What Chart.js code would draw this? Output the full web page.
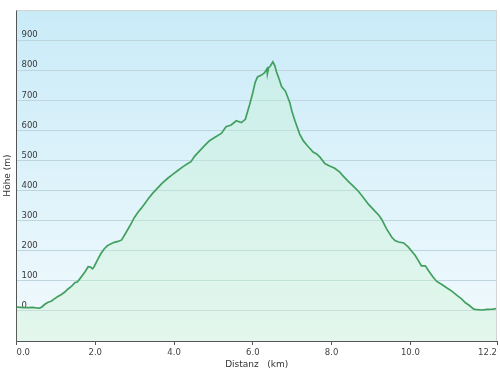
<!DOCTYPE html>
<html>
<head>
<meta charset="utf-8">
<script src="https://cdn.jsdelivr.net/npm/chart.js@4/dist/chart.umd.min.js"></script>
<style>
html,body{margin:0;padding:0;background:#fff;}
#wrap{width:500px;height:375px;}
</style>
</head>
<body>
<div id="wrap"><canvas id="c" width="500" height="375"></canvas></div>
<script>
const distanceKm = [0.00,0.10,0.20,0.30,0.40,0.50,0.59,0.65,0.72,0.80,0.88,0.97,1.05,1.13,1.22,1.30,1.40,1.48,1.55,1.65,1.74,1.82,1.88,1.93,1.97,2.05,2.14,2.22,2.30,2.38,2.48,2.58,2.67,2.77,2.88,2.99,3.08,3.16,3.24,3.35,3.45,3.58,3.70,3.84,3.95,4.08,4.22,4.35,4.43,4.52,4.62,4.75,4.90,5.05,5.20,5.32,5.45,5.58,5.71,5.81,5.92,5.99,6.06,6.12,6.22,6.30,6.36,6.37,6.40,6.45,6.51,6.56,6.60,6.67,6.73,6.83,6.94,7.00,7.07,7.13,7.19,7.28,7.38,7.45,7.53,7.62,7.70,7.83,7.95,8.08,8.20,8.32,8.43,8.55,8.68,8.80,8.94,9.10,9.20,9.27,9.40,9.53,9.61,9.70,9.83,9.95,10.05,10.12,10.20,10.28,10.38,10.48,10.58,10.67,10.80,10.93,11.06,11.20,11.30,11.40,11.50,11.61,11.70,11.82,11.95,12.10,12.20];
const heightM = [13,12,11,11,12,10,9,14,22,29,32,41,48,54,62,72,82,94,97,114,130,147,146,140,147,168,190,205,216,222,228,231,236,258,283,310,327,340,354,374,390,408,425,441,452,465,479,490,496,514,528,546,566,578,590,612,618,632,626,637,686,720,760,778,784,792,805,788,808,815,828,815,795,770,746,730,692,660,632,610,588,566,550,540,528,522,512,490,482,474,462,445,430,415,398,378,354,332,318,305,272,245,234,229,226,212,196,185,168,150,150,130,112,98,88,76,65,50,40,27,18,6,4,3,5,6,8];
const xTicks = [0,2,4,6,8,10,12.2];
const yTicks = [0,100,200,300,400,500,600,700,800,900];
const xTitle = 'Distanz   (km)';
const yTitle = 'Höhe (m)';

const points = distanceKm.map((d,i)=>({x:d,y:heightM[i]}));

const bgPlugin = {
  id:'bg',
  beforeDraw(chart){
    const {ctx, chartArea:a} = chart;
    if(!a) return;
    const g = ctx.createLinearGradient(0,a.top,0,a.bottom);
    g.addColorStop(0,'#c9ebf8');
    g.addColorStop(1,'#f2fafd');
    ctx.save();
    ctx.fillStyle = g;
    ctx.fillRect(a.left,a.top,a.right-a.left,a.bottom-a.top);
    ctx.restore();
  },
  afterDraw(chart){
    const {ctx, chartArea:a} = chart;
    ctx.save();
    ctx.strokeStyle = '#d4d4d4';
    ctx.lineWidth = 1;
    ctx.beginPath();
    ctx.moveTo(a.left, a.top+0.5);
    ctx.lineTo(a.right-0.5, a.top+0.5);
    ctx.lineTo(a.right-0.5, a.bottom);
    ctx.stroke();
    ctx.restore();
  }
};

const font = 'DejaVu Sans, Verdana, sans-serif';

new Chart(document.getElementById('c'), {
  type:'line',
  data:{datasets:[{
    data:points,
    borderColor:'#42a05e',
    borderWidth:1.7,
    pointRadius:0,
    tension:0,
    fill:'start',
    backgroundColor:(ctx)=>{
      const a = ctx.chart.chartArea;
      if(!a) return 'rgba(170,235,190,0.3)';
      const g = ctx.chart.ctx.createLinearGradient(0,a.top,0,a.bottom);
      g.addColorStop(0,'rgba(190,240,205,0.32)');
      g.addColorStop(1,'rgba(205,242,210,0.4)');
      return g;
    }
  }]},
  options:{
    responsive:false,
    animation:false,
    layout:{padding:{top:3,right:3,left:0,bottom:0}},
    plugins:{legend:{display:false},tooltip:{enabled:false}},
    scales:{
      x:{
        type:'linear',
        min:0,max:12.2,
        afterBuildTicks(s){ s.ticks = xTicks.map(v=>({value:v})); },
        afterFit(s){ s.height = 34; },
        border:{display:true,color:'#555',width:1},
        grid:{drawOnChartArea:false,drawTicks:true,tickLength:4,tickColor:'#555'},
        ticks:{align:'inner',maxRotation:0,padding:3,color:'#444',font:{family:font,size:8.5},
          callback:(v)=>Number(v).toFixed(1)},
        title:{display:true,text:xTitle,color:'#333',font:{family:font,size:9},padding:{top:0,bottom:5}}
      },
      y:{
        min:-100,max:1000,
        afterBuildTicks(s){ s.ticks = [-100].concat(yTicks,[1000]).map(v=>({value:v})); },
        afterFit(s){ s.width = 16.5; },
        border:{display:true,color:'#555',width:1},
        grid:{drawTicks:false,color:(c)=> c.tick && c.tick.value===1000 ? '#d4d4d4' : '#bfd5dd',lineWidth:1},
        ticks:{mirror:true,padding:5,labelOffset:-5,color:'#3a3a3a',font:{family:font,size:8.5},
          callback:(v)=> yTicks.includes(v) ? String(v) : ''},
        title:{display:true,text:yTitle,color:'#333',font:{family:font,size:9},padding:{top:2,bottom:2}}
      }
    }
  },
  plugins:[bgPlugin]
});
</script>
</body>
</html>
